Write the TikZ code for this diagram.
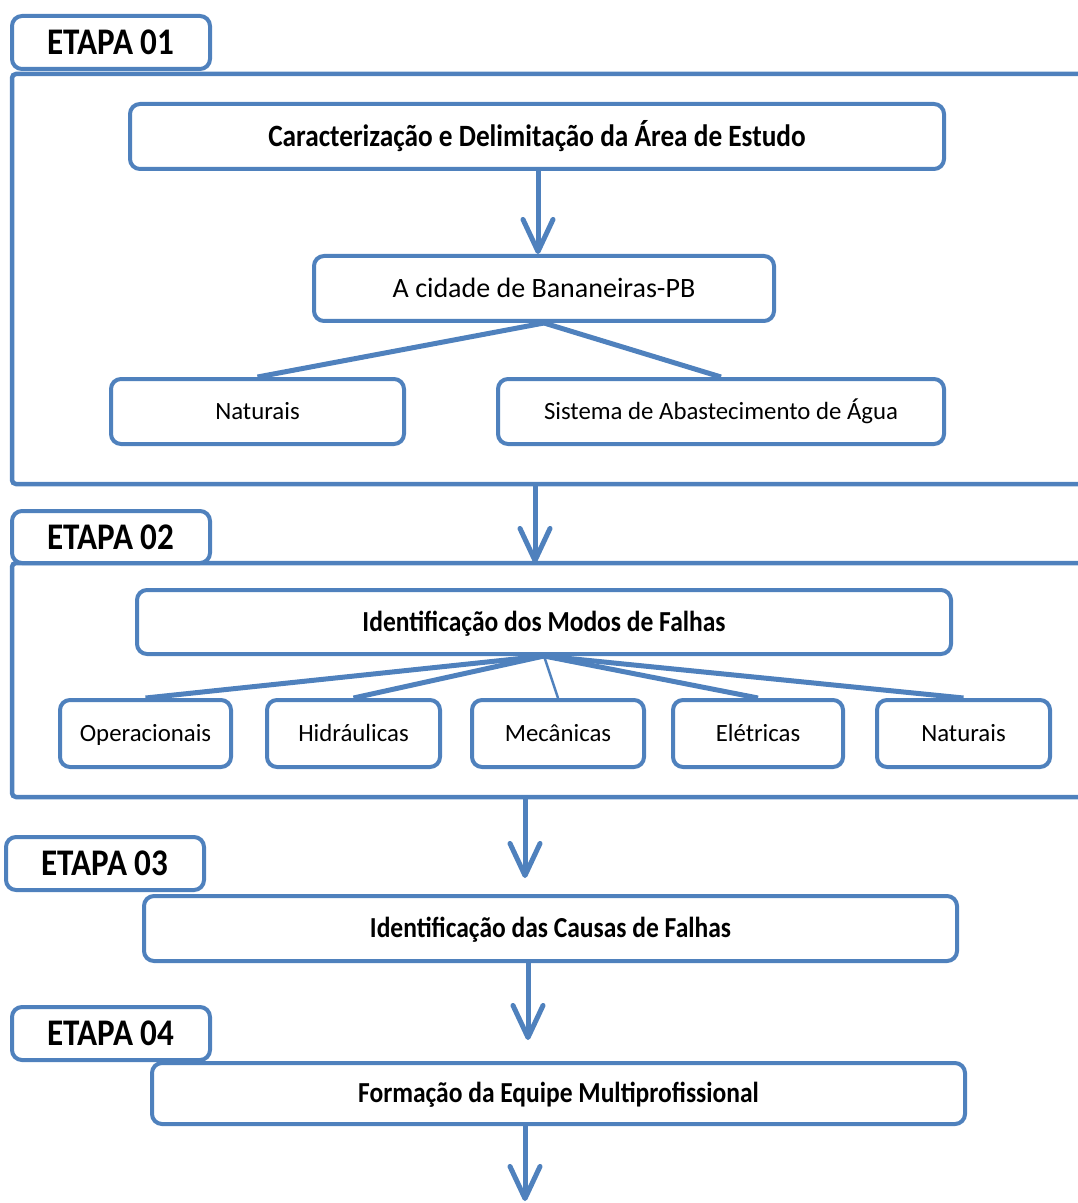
\documentclass[tikz,border=0pt]{standalone}
\usepackage{fontspec}
\setmainfont{Carlito}[FakeStretch=0.88]
\newfontfamily\plainfont{Carlito}
\usetikzlibrary{arrows.meta,positioning}
\definecolor{etapablue}{RGB}{79,129,189}

\begin{document}
\begin{tikzpicture}[
    x=0.5pt, y=-0.5pt,
    box/.style={rectangle, draw=etapablue, line width=2pt, fill=white, rounded corners=5pt, text centered, minimum height=32.5pt, text height=7.9pt, text depth=0pt, font=\plainfont\fontsize{12.4}{15}\selectfont},
    title/.style={box, text height=9.4pt, font=\fontsize{14.5}{17}\selectfont\bfseries},
    tab/.style={box, minimum width=99pt, minimum height=26.5pt, text height=12pt, font=\fontsize{18.8}{22}\selectfont\bfseries},
    frame/.style={draw=etapablue, line width=2.25pt, rounded corners=2pt},
    arrow/.style={-{Straight Barb[length=16pt,width=15pt,round]}, draw=etapablue, line width=2.5pt},
    branch/.style={draw=etapablue, line width=2.5pt}
]
\useasboundingbox (0,0) rectangle (1077,1203);

% Frames
\draw[frame] (1085,74) -- (12,74) -- (12,484) -- (1085,484);
\draw[frame] (1085,563) -- (12,563) -- (12,797) -- (1085,797);

% Etapa 01
\node[tab] (etapa1) at (111,42.5) {ETAPA 01};
\node[title, minimum width=407pt, text height=9.9pt, font=\fontsize{15.5}{18}\selectfont\bfseries] (carac) at (537,136.5) {Caracterização e Delimitação da Área de Estudo};
\node[box, minimum width=230pt, text height=9pt, font=\plainfont\fontsize{14}{17}\selectfont] (cidade) at (544,288.5) {A cidade de Bananeiras-PB};
\node[box, minimum width=146.5pt] (naturais) at (257.5,411.5) {Naturais};
\node[box, minimum width=223pt] (sistema) at (721,411.5) {Sistema de Abastecimento de Água};

% Etapa 02
\node[tab, minimum height=26pt] (etapa2) at (111,537) {ETAPA 02};
\node[title, minimum width=407pt, minimum height=32pt] (modos) at (544,622) {Identificação dos Modos de Falhas};
\node[box, minimum width=85.5pt, minimum height=33.5pt] (oper) at (145.5,733.5) {Operacionais};
\node[box, minimum width=86.5pt, minimum height=33.5pt] (hidr) at (353.5,733.5) {Hidráulicas};
\node[box, minimum width=86pt, minimum height=33.5pt] (mec) at (558,733.5) {Mecânicas};
\node[box, minimum width=85pt, minimum height=33.5pt] (elet) at (758,733.5) {Elétricas};
\node[box, minimum width=86.5pt, minimum height=33.5pt] (natur) at (963.5,733.5) {Naturais};

% Etapa 03
\node[tab] (etapa3) at (105,863.5) {ETAPA 03};
\node[title, minimum width=406.5pt] (causas) at (550.5,928.5) {Identificação das Causas de Falhas};

% Etapa 04
\node[tab] (etapa4) at (111,1033.5) {ETAPA 04};
\node[title, minimum width=406.5pt, minimum height=30.5pt] (equipe) at (558.5,1093.5) {Formação da Equipe Multiprofissional};

% Free ends
\coordinate (f1b) at (535,484);
\coordinate (f2t) at (535,563);
\coordinate (f2b) at (525,797);
\coordinate (c3) at (525,878);
\coordinate (c4) at (528,1040);
\coordinate (c5) at (525,1201);

% Arrows
\draw[arrow] (carac.south -| 538,0) -- (cidade.north -| 538,0);
\draw[arrow] (f1b) -- (f2t);
\draw[arrow] (f2b) -- (c3);
\draw[arrow] (causas.south -| c4) -- (c4);
\draw[arrow] (equipe.south -| c5) -- (c5);

% Branches
\draw[branch] (cidade.south) -- (naturais.north);
\draw[branch] (cidade.south) -- (sistema.north);
\draw[branch] (modos.south) -- (oper.north);
\draw[branch] (modos.south) -- (hidr.north);
\draw[branch, line width=1.2pt] (modos.south) -- (mec.north);
\draw[branch] (modos.south) -- (elet.north);
\draw[branch] (modos.south) -- (natur.north);

\end{tikzpicture}
\end{document}
